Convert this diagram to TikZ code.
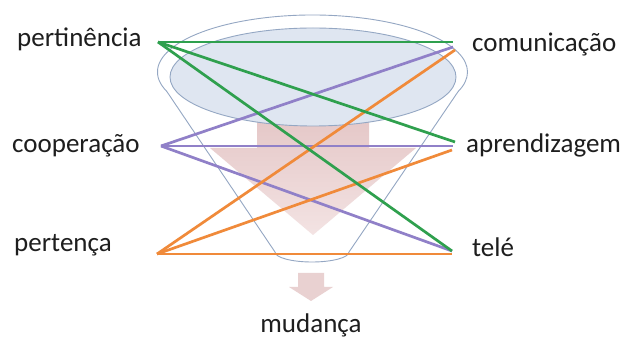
\documentclass[tikz,border=0pt]{standalone}
\usepackage{fontspec}
\setmainfont{Carlito}
\definecolor{txt}{HTML}{1E1E1E}
\definecolor{lgreen}{HTML}{2FA04E}
\definecolor{lpurple}{HTML}{9080C8}
\definecolor{lorange}{HTML}{F08A3A}
\definecolor{funnel}{HTML}{94A7C3}
\definecolor{innerfill}{HTML}{DFE6F1}
\definecolor{pinkA}{HTML}{E2C2C2}
\definecolor{pinkB}{HTML}{F3E3E3}
\begin{document}
\begin{tikzpicture}[x=1pt,y=1pt,
  lbl/.style={font=\fontsize{27}{30}\selectfont, text=txt, inner sep=0pt},
  conn/.style={line width=2.7pt},
  gconn/.style={conn, draw=lgreen},
  pconn/.style={conn, draw=lpurple},
  oconn/.style={conn, draw=lorange},
  funnelline/.style={draw=funnel, line width=0.9pt},
  pinkarrow/.style={top color=pinkA, bottom color=pinkB, draw=none}
]
\useasboundingbox (0,0) rectangle (630,340);
\fill[white] (0,0) rectangle (630,340);

% big pink arrow
\path[pinkarrow] (257,245) -- (369,245) -- (369,192) -- (416,192) -- (313,105) -- (210,192) -- (257,192) -- cycle;

% funnel outline
\path[funnelline] (166.85,248.5) arc[start angle=200, end angle=-20, x radius=155pt, y radius=57pt]
  -- (349,88) arc[start angle=0, end angle=-180, x radius=37pt, y radius=10pt] -- cycle;

% inner ellipse
\path[fill=innerfill, draw=funnel, line width=0.9pt] (313,263) ellipse [x radius=143pt, y radius=49pt];

% small pink arrow
\fill[pinkA!75!white] (298,67) -- (324,67) -- (324,53) -- (333,53) -- (311,39) -- (289,53) -- (298,53) -- cycle;

% anchor coordinates
\coordinate (L1) at (158,298);
\coordinate (L2) at (161,194);
\coordinate (L3) at (157,86);
\coordinate (R1g) at (453,298);
\coordinate (R1p) at (453,293);
\coordinate (R1o) at (455,290);
\coordinate (R2g) at (455,198);
\coordinate (R2p) at (453,194);
\coordinate (R2o) at (452,190);
\coordinate (R3g) at (452,89);
\coordinate (R3p) at (452,89);
\coordinate (R3o) at (452,86);

% connectors
\draw[pconn] (L2) -- (R1p);
\draw[pconn] (L2) -- (R2p);
\draw[pconn] (L2) -- (R3p);
\draw[oconn] (L3) -- (R1o);
\draw[oconn] (L3) -- (R2o);
\draw[oconn] (L3) -- (R3o);
\draw[gconn] (L1) -- (R1g);
\draw[gconn] (L1) -- (R2g);
\draw[gconn] (L1) -- (R3g);

% labels
\node[lbl, anchor=base west] (pert) at (17,293) {pertinência};
\node[lbl, anchor=base west] (coop) at (12,187) {cooperação};
\node[lbl, anchor=base west] (perten) at (14,88) {pertença};
\node[lbl, anchor=base west] (comu) at (472,288) {comunicação};
\node[lbl, anchor=base west] (apre) at (466,187) {aprendizagem};
\node[lbl, anchor=base west] (tele) at (472,83) {telé};
\node[lbl, anchor=base] (muda) at (311,7) {mudança};
\end{tikzpicture}
\end{document}
